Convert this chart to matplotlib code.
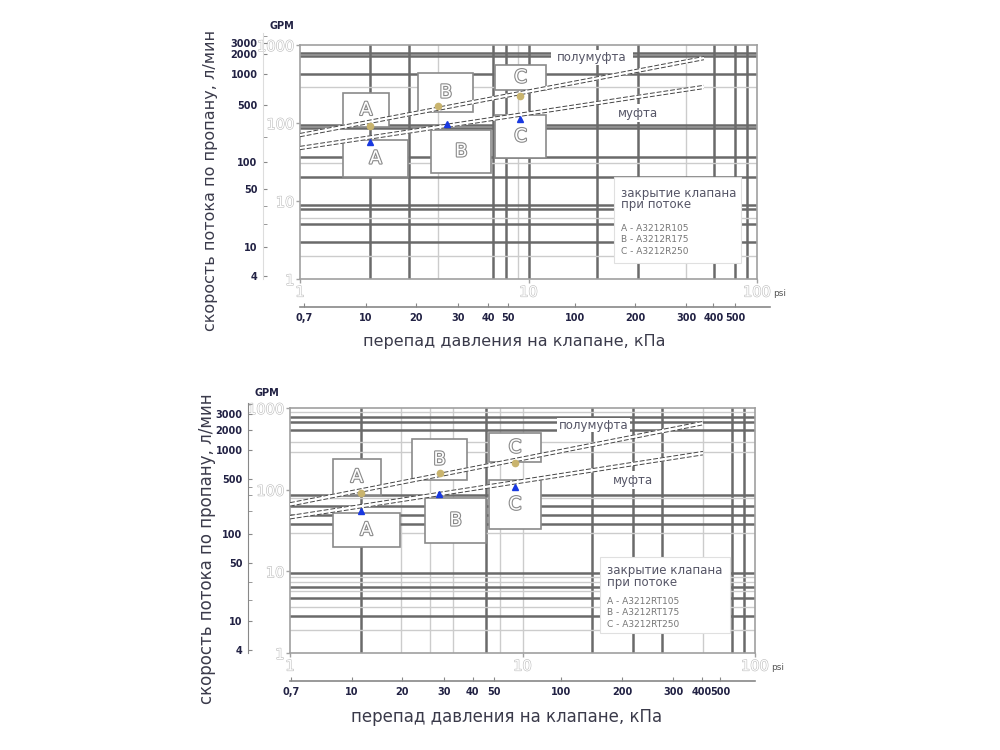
import matplotlib
matplotlib.use('Agg')
import matplotlib.pyplot as plt
from matplotlib.patches import Rectangle
import matplotlib.patheffects as pe

# ---------------- data ----------------
# main axes ticks
main_x_ticks = [1, 10, 100]
main_y_ticks = [1, 10, 100, 1000]
# secondary scales
gpm_labels = ["3000", "2000", "1000", "500", "100", "50", "10", "4"]
kpa_labels = ["0,7", "10", "20", "30", "40", "50", "100", "200", "300", "400", "500"]

# top panel: curves (psi, л/мин)
top_half_x = [1, 58.6]
top_half_y = [70, 680]
top_full_x = [1, 58.6]
top_full_y = [47.8, 290]
top_gold_x = [2.03, 4.03, 9.2]
top_gold_y = [91, 165, 222]
top_blue_x = [2.03, 4.41, 9.2]
top_blue_y = [57, 97, 112]
top_legend = ["A - A3212R105", "B - A3212R175", "C - A3212R250"]
top_vgrid_dark = [2.03, 3.0, 7.0, 8.0, 10, 20, 30, 65, 80, 90]
top_vgrid_light = [4.03, 9.0, 49]
top_hgrid_dark = [789, 718, 424, 94, 86, 36.6, 20.3, 8.9, 7.9, 5.07, 2.98]
top_hgrid_light = [288, 30.6, 6.05, 1.97]
top_gpm_pos = [1061, 767, 425, 170, 31.6, 14.3, 2.57, 1.09]
top_gpm_minor = [1300, 66, 8.6, 5.07]
top_kpa_pos = [1.04, 1.95, 3.23, 4.93, 6.67, 8.17, 16.1, 29.5, 49.3, 65, 81]

# bottom panel
bot_half_x = [1, 59.7]
bot_half_y = [66, 653]
bot_full_x = [1, 59.7]
bot_full_y = [46, 280]
bot_gold_x = [2.02, 4.4, 9.3]
bot_gold_y = [91, 158, 211]
bot_blue_x = [2.02, 4.37, 9.3]
bot_blue_y = [55, 88, 108]
bot_legend = ["A - A3212RT105", "B - A3212RT175", "C - A3212RT250"]
bot_vgrid_dark = [2.02, 7.0, 20, 30, 40, 80, 90]
bot_vgrid_light = [3.0, 4.0, 5.0, 8.0, 10, 60]
bot_hgrid_dark = [777, 672, 535, 86, 63, 49, 38, 9.5, 6.4, 4.7, 2.84]
bot_hgrid_light = [891, 381, 288, 79, 29.4, 8.5, 7.4, 5.75, 3.66, 1.91]
bot_gpm_pos = [842, 537, 305, 135, 28.6, 12.6, 2.46, 1.09]
bot_gpm_minor = [1100, 108, 86, 55, 7.4, 4.45]
bot_kpa_pos = [1.01, 1.85, 3.03, 4.6, 6.1, 7.55, 14.7, 26.8, 44.5, 59, 71]

xlabel = "перепад давления на клапане, кПа"
ylabel = "скорость потока по пропану, л/мин"
legend_title = ["закрытие клапана", "при потоке"]

fig = plt.figure(figsize=(10, 7.5), dpi=100)
W, H = 1000.0, 750.0

def frect(l, t, r, b):
    return [l / W, 1 - b / H, (r - l) / W, (b - t) / H]

hollow = [pe.withStroke(linewidth=1.6, foreground='#8a8a8a')]

DARK = '#6a6a6a'
LIGHT = '#cccccc'


def panel(cfg):
    ax = fig.add_axes(frect(*cfg['rect']))
    ax.set_xscale('log')
    ax.set_yscale('log')
    ax.set_xlim(1, 100)
    ax.set_ylim(1, 1000)
    ax.minorticks_off()
    for s in ax.spines.values():
        s.set_color('#a0a0a0')
        s.set_linewidth(1.2)
    ax.set_xticks(main_x_ticks)
    ax.set_xticklabels(["1", "10", "100"])
    ax.set_yticks(main_y_ticks)
    ax.set_yticklabels([str(v) for v in main_y_ticks])
    ax.tick_params(axis='both', colors='#a0a0a0', labelcolor='#9a9a9a',
                   labelsize=10.5, length=3, width=1.0, pad=1)
    for lbl in ax.get_xticklabels() + ax.get_yticklabels():
        lbl.set_path_effects([pe.withStroke(linewidth=0.8, foreground='#bbbbbb')])
        lbl.set_color('white')
    px, py = cfg['psi']
    fig.text(px / W, 1 - py / H, "psi", fontsize=6.5, color='#555555',
             ha='left', va='center')

    # grid
    for v in cfg['vd']:
        ax.axvline(v, color=DARK, lw=1.8, zorder=1)
    for v in cfg['vl']:
        ax.axvline(v, color=LIGHT, lw=1.0, zorder=1)
    for v in cfg['hd']:
        ax.axhline(v, color=DARK, lw=1.8, zorder=1)
    for v in cfg['hl']:
        ax.axhline(v, color=LIGHT, lw=1.0, zorder=1)

    # label boxes
    for (x0, x1, y0, y1, t) in cfg['boxes']:
        ax.add_patch(Rectangle((x0, y0), x1 - x0, y1 - y0, facecolor='white',
                               edgecolor='#8a8a8a', lw=1.2, zorder=3))
        xc = (x0 * x1) ** 0.5
        yc = (y0 * y1) ** 0.5
        ax.text(xc, yc, t, ha='center', va='center', fontsize=13, color='white',
                path_effects=hollow, zorder=6)

    # curves (white band outlined with dashes)
    for xs, ys in [(cfg['hx'], cfg['hy']), (cfg['fx'], cfg['fy'])]:
        ax.plot(xs, ys, color='white', lw=3.0, zorder=4, solid_capstyle='butt')
        ax.plot(xs, [y * 1.05 for y in ys], color='#444444', lw=0.7,
                ls=(0, (5, 2)), zorder=4)
        ax.plot(xs, [y / 1.05 for y in ys], color='#444444', lw=0.7,
                ls=(0, (5, 2)), zorder=4)
    ax.plot(cfg['gx'], cfg['gy'], ls='none', marker='o', ms=4.5,
            color='#c9b46e', zorder=5)
    ax.plot(cfg['bx'], cfg['by'], ls='none', marker='^', ms=5,
            color='#1838e0', zorder=5)

    # curve labels
    hx0, hx1, hy0, hy1 = cfg['halfbox']
    ax.add_patch(Rectangle((hx0, hy0), hx1 - hx0, hy1 - hy0, facecolor='white',
                           edgecolor='none', zorder=3))
    ax.text((hx0 * hx1) ** 0.5, (hy0 * hy1) ** 0.5, "полумуфта", ha='center',
            va='center', fontsize=8.5, color='#555566', zorder=6)
    mx, my = cfg['mufta']
    ax.text(mx, my, "муфта", ha='center', va='center', fontsize=8.5,
            color='#555566', zorder=6,
            bbox=dict(facecolor='white', edgecolor='none', pad=1.5))

    # legend box
    lx0, lx1, ly0, ly1 = cfg['legbox']
    ax.add_patch(Rectangle((lx0, ly0), lx1 - lx0, ly1 - ly0, facecolor='white',
                           edgecolor='#e0e0e0', lw=0.8, zorder=3))
    tx = cfg['legx']
    for t, yy in zip(legend_title, cfg['legty']):
        ax.text(tx, yy, t, fontsize=8.5, color='#555566', va='center',
                ha='left', zorder=6)
    for t, yy in zip(cfg['legend'], cfg['legiy']):
        ax.text(tx, yy, t, fontsize=6.5, color='#777777', va='center',
                ha='left', zorder=6)

    # GPM secondary axis
    g = fig.add_axes(frect(*cfg['gpmrect']))
    g.set_yscale('log')
    g.set_ylim(1, cfg['gpmtop'])
    g.set_xticks([])
    for k in ['top', 'right', 'bottom']:
        g.spines[k].set_visible(False)
    g.spines['left'].set_color(cfg['gpmspine'])
    g.patch.set_alpha(0)
    g.set_yticks(cfg['gpm'])
    g.set_yticklabels(gpm_labels)
    g.set_yticks(cfg['gpmminor'], minor=True)
    g.set_yticklabels([], minor=True)
    g.tick_params(axis='y', which='both', direction='in', length=3,
                  colors='#888888', labelcolor='#222244', labelsize=7, pad=4)
    for lbl in g.get_yticklabels():
        lbl.set_fontweight('bold')
    g.text(cfg['gpmlab'][0] / W, 1 - cfg['gpmlab'][1] / H, "GPM",
           transform=fig.transFigure, fontsize=7, fontweight='bold',
           color='#222244', ha='center', va='center')

    # kPa secondary axis
    k = fig.add_axes(frect(*cfg['kparect']))
    k.set_xscale('log')
    k.set_xlim(1, cfg['kpatop'])
    k.set_yticks([])
    for s in ['top', 'right', 'left']:
        k.spines[s].set_visible(False)
    k.spines['bottom'].set_color('#888888')
    k.spines['bottom'].set_linewidth(1.2)
    k.patch.set_alpha(0)
    k.minorticks_off()
    k.set_xticks(cfg['kpa'])
    k.set_xticklabels(kpa_labels)
    k.tick_params(axis='x', direction='in', length=3, colors='#888888',
                  labelcolor='#222244', labelsize=7, pad=4)
    for lbl in k.get_xticklabels():
        lbl.set_fontweight('bold')

    # axis labels
    fig.text(cfg['xlab'][0] / W, 1 - cfg['xlab'][1] / H, xlabel,
             fontsize=cfg['fs'], color='#3a3a4a', ha='center', va='center')
    fig.text(cfg['ylab'][0] / W, 1 - cfg['ylab'][1] / H, ylabel,
             fontsize=cfg['fs'], color='#3a3a4a', ha='center', va='center',
             rotation=90)


top_cfg = dict(
    rect=(300, 45, 757, 279),
    vd=top_vgrid_dark, vl=top_vgrid_light, hd=top_hgrid_dark, hl=top_hgrid_light,
    boxes=[(1.54, 2.46, 88.9, 243, "A"), (1.54, 2.98, 20.3, 60.5, "A"),
           (3.29, 5.74, 138, 437, "B"), (3.75, 6.87, 22.9, 81.3, "B"),
           (7.16, 11.9, 265, 554, "C"), (7.16, 11.9, 35.6, 127, "C")],
    hx=top_half_x, hy=top_half_y, fx=top_full_x, fy=top_full_y,
    gx=top_gold_x, gy=top_gold_y, bx=top_blue_x, by=top_blue_y,
    halfbox=(12.5, 28.8, 554, 863), mufta=(30.1, 134),
    legbox=(23.6, 85, 1.6, 20.3), legx=25.5,
    legty=[12.6, 8.9], legiy=[4.5, 3.25, 2.28], legend=top_legend,
    gpmrect=(263, 33, 264, 279), gpmtop=1426, gpm=top_gpm_pos,
    gpmminor=top_gpm_minor, gpmspine='#dddddd', gpmlab=(282, 26),
    kparect=(300, 290, 770, 307), kpatop=115, kpa=top_kpa_pos,
    xlab=(514, 342), ylab=(210, 180), psi=(773, 294), fs=11.5,
)

bot_cfg = dict(
    rect=(290, 408, 755, 653),
    vd=bot_vgrid_dark, vl=bot_vgrid_light, hd=bot_hgrid_dark, hl=bot_hgrid_light,
    boxes=[(1.53, 2.46, 85.9, 237, "A"), (1.53, 2.97, 19.8, 51.7, "A"),
           (3.35, 5.77, 131, 416, "B"), (3.81, 6.97, 22.2, 78.9, "B"),
           (7.18, 12.0, 218, 493, "C"), (7.18, 12.0, 33, 131, "C")],
    hx=bot_half_x, hy=bot_half_y, fx=bot_full_x, fy=bot_full_y,
    gx=bot_gold_x, gy=bot_gold_y, bx=bot_blue_x, by=bot_blue_y,
    halfbox=(14.1, 29, 507, 752), mufta=(29.9, 131),
    legbox=(21.5, 78, 1.76, 15), legx=23.0,
    legty=[10.2, 7.4], legiy=[4.3, 3.12, 2.22], legend=bot_legend,
    gpmrect=(248, 403, 249, 653), gpmtop=1146, gpm=bot_gpm_pos,
    gpmminor=bot_gpm_minor, gpmspine='#888888', gpmlab=(267, 393),
    kparect=(290, 664, 755, 681), kpatop=100, kpa=bot_kpa_pos,
    xlab=(507, 717), ylab=(207, 549), psi=(771, 667), fs=12,
)

panel(top_cfg)
panel(bot_cfg)

fig.savefig('out.png', dpi=100)
